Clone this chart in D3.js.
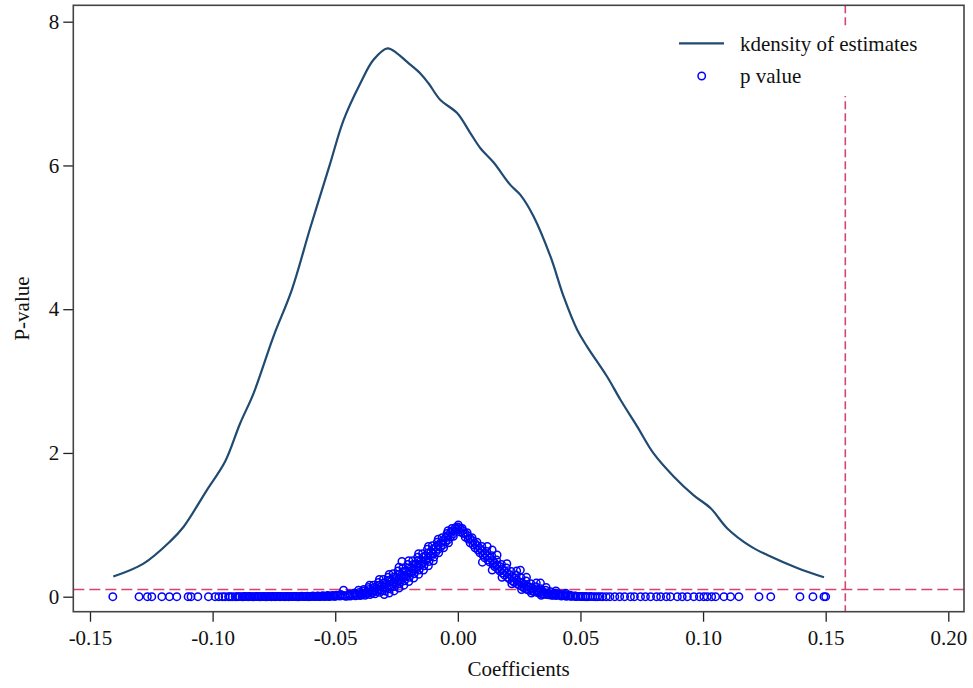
<!DOCTYPE html>
<html>
<head>
<meta charset="utf-8">
<script src="https://cdn.jsdelivr.net/npm/d3@7"></script>
<style>
  body { margin: 0; background: #fff; }
  text { font-family: "Liberation Serif", "Times New Roman", serif; fill: #111; }
</style>
</head>
<body>
<div id="chart"></div>
<script>
// axis ticks
const xTicks = [-0.15, -0.10, -0.05, 0, 0.05, 0.10, 0.15, 0.20];
const yTicks = [0, 2, 4, 6, 8];

// kernel density of the placebo estimates
const densityX = [-0.1405, -0.1282, -0.1173, -0.1119, -0.1024, -0.0949, -0.0888, -0.0833, -0.0752, -0.0677,
  -0.0602, -0.0523, -0.0466, -0.0398, -0.0344, -0.0287, -0.0248, -0.0207, -0.0153, -0.0119, -0.0071, -0.0003,
  0.0051, 0.0092, 0.0146, 0.0214, 0.0255, 0.0309, 0.0378, 0.0432, 0.0487, 0.0527, 0.0609, 0.0663, 0.0731,
  0.0799, 0.0881, 0.0962, 0.1031, 0.1099, 0.1194, 0.1262, 0.1384, 0.1493];
const densityY = [0.28, 0.46, 0.77, 0.97, 1.48, 1.88, 2.41, 2.83, 3.62, 4.27,
  5.13, 6.0, 6.63, 7.14, 7.47, 7.63, 7.56, 7.44, 7.28, 7.14, 6.91, 6.73,
  6.45, 6.24, 6.04, 5.73, 5.59, 5.29, 4.73, 4.17, 3.71, 3.48, 3.06, 2.74, 2.37,
  1.99, 1.67, 1.41, 1.23, 0.95, 0.70, 0.58, 0.40, 0.27];

// p values: [coefficient, p]
const pLeftTail = [[-0.1407, 0], [-0.1300, 0], [-0.1266, 0], [-0.1248, 0], [-0.1207, 0], [-0.1176, 0],
  [-0.1146, 0], [-0.1100, 0], [-0.1088, 0], [-0.1060, 0], [-0.1017, 0], [-0.0990, 0], [-0.0975, 0],
  [-0.0960, 0], [-0.0949, 0], [-0.0935, 0], [-0.0929, 0], [-0.0920, 0], [-0.0908, 0]];
const pLeftDense = [[-0.0900, 0], [-0.0890, 0.001], [-0.0880, 0], [-0.0868, 0.002], [-0.0855, 0], [-0.0845, 0.001],
  [-0.0832, 0], [-0.0820, 0.002], [-0.0810, 0], [-0.0798, 0.001], [-0.0785, 0], [-0.0772, 0.002], [-0.0760, 0],
  [-0.0750, 0.001], [-0.0738, 0.003], [-0.0725, 0], [-0.0712, 0.001], [-0.0700, 0.002], [-0.0690, 0],
  [-0.0678, 0.003], [-0.0665, 0.001], [-0.0655, 0], [-0.0642, 0.004], [-0.0630, 0.001], [-0.0620, 0.002],
  [-0.0608, 0], [-0.0597, 0.005], [-0.0585, 0.002], [-0.0575, 0.006], [-0.0566, 0.001], [-0.0556, 0.008],
  [-0.0545, 0.003], [-0.0535, 0.010], [-0.0526, 0.002], [-0.0515, 0.012], [-0.0505, 0.004],
  [-0.0895, 0.001], [-0.0875, 0], [-0.0862, 0.001], [-0.0850, 0.002], [-0.0838, 0], [-0.0826, 0.001],
  [-0.0815, 0.003], [-0.0803, 0], [-0.0791, 0.002], [-0.0779, 0], [-0.0766, 0.001], [-0.0755, 0.003],
  [-0.0744, 0], [-0.0731, 0.002], [-0.0719, 0.004], [-0.0706, 0], [-0.0695, 0.003], [-0.0684, 0.001],
  [-0.0671, 0.005], [-0.0660, 0.002], [-0.0648, 0], [-0.0636, 0.006], [-0.0625, 0.003], [-0.0614, 0.008],
  [-0.0602, 0.002], [-0.0591, 0.009], [-0.0580, 0.004], [-0.0570, 0.011], [-0.0561, 0.003], [-0.0550, 0.014],
  [-0.0540, 0.005], [-0.0530, 0.016], [-0.0520, 0.006], [-0.0510, 0.018]];
const pCenter = [
  [-0.0500, 0.005], [-0.0495, 0.020], [-0.0480, 0.010], [-0.0478, 0.030], [-0.0466, 0.090], [-0.0460, 0.015],
  [-0.0458, 0.004], [-0.0440, 0.020], [-0.0442, 0.040], [-0.0438, 0.008], [-0.0420, 0.030], [-0.0422, 0.050],
  [-0.0418, 0.012], [-0.0405, 0.090], [-0.0400, 0.040], [-0.0398, 0.015], [-0.0402, 0.060],
  [-0.0380, 0.050], [-0.0382, 0.080], [-0.0378, 0.020], [-0.0384, 0.100],
  [-0.0360, 0.060], [-0.0362, 0.100], [-0.0358, 0.030], [-0.0364, 0.130],
  [-0.0340, 0.080], [-0.0342, 0.130], [-0.0338, 0.040], [-0.0344, 0.160],
  [-0.0320, 0.100], [-0.0322, 0.160], [-0.0318, 0.060], [-0.0324, 0.200],
  [-0.0300, 0.130], [-0.0302, 0.190], [-0.0298, 0.080], [-0.0304, 0.240],
  [-0.0280, 0.160], [-0.0282, 0.230], [-0.0278, 0.110], [-0.0284, 0.270],
  [-0.0260, 0.200], [-0.0262, 0.270], [-0.0258, 0.140], [-0.0264, 0.320],
  [-0.0240, 0.240], [-0.0242, 0.310], [-0.0238, 0.180], [-0.0244, 0.360],
  [-0.0228, 0.490],
  [-0.0220, 0.280], [-0.0222, 0.350], [-0.0218, 0.220], [-0.0224, 0.400],
  [-0.0200, 0.330], [-0.0202, 0.400], [-0.0198, 0.270], [-0.0204, 0.450],
  [-0.0180, 0.380], [-0.0182, 0.450], [-0.0178, 0.320], [-0.0184, 0.500],
  [-0.0160, 0.430], [-0.0162, 0.500], [-0.0158, 0.370], [-0.0164, 0.550],
  [-0.0140, 0.480], [-0.0142, 0.550], [-0.0138, 0.430], [-0.0144, 0.600],
  [-0.0120, 0.540], [-0.0122, 0.610], [-0.0118, 0.490], [-0.0124, 0.660],
  [-0.0100, 0.600], [-0.0102, 0.660], [-0.0098, 0.550], [-0.0104, 0.710],
  [-0.0080, 0.660], [-0.0082, 0.720], [-0.0078, 0.610], [-0.0084, 0.760],
  [-0.0060, 0.720], [-0.0062, 0.780], [-0.0058, 0.680], [-0.0064, 0.820],
  [-0.0040, 0.790], [-0.0042, 0.850], [-0.0038, 0.750], [-0.0044, 0.880],
  [-0.0020, 0.870], [-0.0022, 0.920], [-0.0018, 0.840], [-0.0024, 0.950],
  [0.0000, 0.970], [0.0002, 1.000], [-0.0003, 0.940],
  [0.0020, 0.920], [0.0022, 0.880], [0.0018, 0.950],
  [0.0040, 0.850], [0.0042, 0.800], [0.0038, 0.890],
  [0.0060, 0.780], [0.0062, 0.720], [0.0058, 0.820],
  [0.0080, 0.710], [0.0082, 0.650], [0.0078, 0.760],
  [0.0100, 0.640], [0.0102, 0.580], [0.0098, 0.700],
  [0.0120, 0.570], [0.0122, 0.510], [0.0118, 0.630],
  [0.0140, 0.650], [0.0142, 0.500], [0.0144, 0.450], [0.0138, 0.570],
  [0.0160, 0.440], [0.0162, 0.390], [0.0158, 0.510],
  [0.0180, 0.380], [0.0182, 0.330], [0.0178, 0.450],
  [0.0200, 0.330], [0.0202, 0.270], [0.0198, 0.400],
  [0.0220, 0.280], [0.0222, 0.220], [0.0218, 0.350],
  [0.0240, 0.230], [0.0242, 0.180], [0.0238, 0.300],
  [0.0255, 0.370],
  [0.0260, 0.190], [0.0262, 0.140], [0.0258, 0.260],
  [0.0280, 0.150], [0.0282, 0.100], [0.0278, 0.220],
  [0.0300, 0.120], [0.0302, 0.080], [0.0298, 0.180],
  [0.0320, 0.090], [0.0322, 0.060], [0.0318, 0.140],
  [0.0337, 0.190],
  [0.0340, 0.070], [0.0342, 0.040], [0.0338, 0.110],
  [0.0360, 0.050], [0.0362, 0.030], [0.0358, 0.090],
  [0.0380, 0.040], [0.0382, 0.020], [0.0378, 0.070],
  [0.0400, 0.030], [0.0402, 0.015], [0.0398, 0.050],
  [0.0420, 0.020], [0.0422, 0.010], [0.0418, 0.040],
  [0.0440, 0.015], [0.0442, 0.006], [0.0438, 0.030],
  [0.0460, 0.010], [0.0462, 0.004], [0.0458, 0.020],
  [0.0480, 0.006], [0.0482, 0.002], [0.0478, 0.012],
  [0.0500, 0.004], [0.0502, 0.001], [0.0520, 0.002], [0.0522, 0]];
const pCenterExtra = [
  [-0.049, 0.012], [-0.047, 0.022], [-0.045, 0.010], [-0.043, 0.028], [-0.041, 0.018], [-0.039, 0.045],
  [-0.039, 0.025], [-0.037, 0.070], [-0.037, 0.040], [-0.035, 0.090], [-0.035, 0.050], [-0.033, 0.120],
  [-0.033, 0.070], [-0.031, 0.150], [-0.031, 0.090], [-0.029, 0.180], [-0.029, 0.120], [-0.027, 0.220],
  [-0.027, 0.150], [-0.025, 0.260], [-0.025, 0.190], [-0.023, 0.300], [-0.023, 0.230], [-0.021, 0.350],
  [-0.021, 0.280], [-0.019, 0.400], [-0.019, 0.330], [-0.017, 0.450], [-0.017, 0.380], [-0.015, 0.500],
  [-0.015, 0.440], [-0.013, 0.570], [-0.013, 0.500], [-0.011, 0.630], [-0.011, 0.560], [-0.009, 0.690],
  [-0.009, 0.620], [-0.007, 0.750], [-0.007, 0.690], [-0.005, 0.820], [-0.005, 0.760], [-0.003, 0.890],
  [-0.003, 0.830], [-0.001, 0.960], [-0.001, 0.910],
  [0.001, 0.950], [0.001, 0.900], [0.003, 0.880], [0.003, 0.830], [0.005, 0.810], [0.005, 0.750],
  [0.007, 0.740], [0.007, 0.680], [0.009, 0.670], [0.009, 0.610], [0.011, 0.600], [0.011, 0.540],
  [0.013, 0.540], [0.013, 0.480], [0.015, 0.470], [0.015, 0.420], [0.017, 0.420], [0.017, 0.360],
  [0.019, 0.360], [0.019, 0.300], [0.021, 0.310], [0.021, 0.250], [0.023, 0.260], [0.023, 0.200],
  [0.025, 0.210], [0.025, 0.160], [0.027, 0.170], [0.027, 0.120], [0.029, 0.140], [0.029, 0.090],
  [0.031, 0.110], [0.031, 0.070], [0.033, 0.085], [0.033, 0.050], [0.035, 0.065], [0.035, 0.035],
  [0.037, 0.050], [0.037, 0.025], [0.039, 0.035], [0.039, 0.018], [0.041, 0.025], [0.043, 0.018],
  [0.045, 0.012], [0.047, 0.008], [0.049, 0.005], [0.051, 0.003]];
// points at the outer edges of the band
const pSpread = [
  [-0.030, 0.030], [-0.028, 0.050], [-0.026, 0.080], [-0.024, 0.120], [-0.022, 0.160], [-0.020, 0.210],
  [-0.018, 0.260], [-0.016, 0.310], [-0.014, 0.370], [-0.012, 0.430], [-0.010, 0.500],
  [-0.036, 0.160], [-0.032, 0.240], [-0.028, 0.310], [-0.024, 0.410], [-0.020, 0.500], [-0.016, 0.600],
  [-0.012, 0.700], [-0.008, 0.800], [-0.004, 0.920],
  [0.012, 0.700], [0.016, 0.580], [0.020, 0.460], [0.024, 0.360], [0.028, 0.270], [0.032, 0.190],
  [0.036, 0.130], [0.040, 0.080], [0.044, 0.050],
  [0.010, 0.480], [0.014, 0.370], [0.018, 0.270], [0.022, 0.180], [0.026, 0.100], [0.030, 0.050],
  [0.034, 0.020]];
const pRightTail = [[0.0530, 0], [0.0540, 0.002], [0.0550, 0.001], [0.0560, 0], [0.0570, 0], [0.0580, 0.001],
  [0.0590, 0], [0.0605, 0], [0.0620, 0], [0.0640, 0], [0.0660, 0],
  [0.0680, 0], [0.0704, 0], [0.0720, 0], [0.0745, 0], [0.0765, 0], [0.0786, 0], [0.0810, 0], [0.0827, 0],
  [0.0850, 0], [0.0867, 0], [0.0895, 0], [0.0915, 0], [0.0936, 0], [0.0962, 0], [0.0985, 0], [0.1003, 0],
  [0.1017, 0], [0.1035, 0], [0.1051, 0], [0.1085, 0], [0.1112, 0], [0.1146, 0], [0.1228, 0], [0.1276, 0],
  [0.1395, 0], [0.1448, 0], [0.1493, 0], [0.1500, 0]];

const pCutoff = 0.1;      // horizontal reference line
const trueCoef = 0.158;   // vertical reference line (baseline estimate)

const width = 973, height = 688;
const frame = { left: 73.3, right: 964, top: 5.3, bottom: 611.7 };
const fontSize = '21px';

const svg = d3.select('#chart')
  .append('svg')
  .attr('width', width)
  .attr('height', height);

const x = d3.scaleLinear().domain([-0.15, 0.20]).range([90, 948.3]);
const y = d3.scaleLinear().domain([0, 8]).range([596.7, 21.7]);

// axes
const yAxis = svg.append('g')
  .attr('transform', `translate(${frame.left},0)`)
  .call(d3.axisLeft(y).tickValues(yTicks).tickSize(10).tickPadding(4).tickFormat(d => String(d)));
const xAxis = svg.append('g')
  .attr('transform', `translate(0,${frame.bottom})`)
  .call(d3.axisBottom(x).tickValues(xTicks).tickSize(10).tickPadding(8).tickFormat(d => d.toFixed(2)));
[yAxis, xAxis].forEach(g => {
  g.select('.domain').remove();
  g.selectAll('line').attr('stroke', '#222').attr('stroke-width', 1.3);
  g.selectAll('text').style('font-size', fontSize).attr('fill', '#111');
});

// reference lines
const red = '#d6456d';
svg.append('line')
  .attr('x1', frame.left).attr('x2', frame.right)
  .attr('y1', y(pCutoff)).attr('y2', y(pCutoff))
  .attr('stroke', red).attr('stroke-width', 1.6).attr('stroke-dasharray', '11,5');
svg.append('line')
  .attr('x1', x(trueCoef)).attr('x2', x(trueCoef))
  .attr('y1', frame.top).attr('y2', frame.bottom)
  .attr('stroke', red).attr('stroke-width', 1.6).attr('stroke-dasharray', '8,4');

// density curve
const density = densityX.map((d, i) => [d, densityY[i]]);
svg.append('path')
  .datum(density)
  .attr('fill', 'none')
  .attr('stroke', '#1f4a72')
  .attr('stroke-width', 2.2)
  .attr('d', d3.line().x(d => x(d[0])).y(d => y(d[1])).curve(d3.curveCatmullRom));

// p value scatter
const points = pLeftTail.concat(pLeftDense, pCenter, pCenterExtra, pSpread, pRightTail);
svg.append('g')
  .selectAll('circle')
  .data(points)
  .join('circle')
  .attr('cx', d => x(d[0]))
  .attr('cy', d => y(d[1]))
  .attr('r', 3.7)
  .attr('fill', 'none')
  .attr('stroke', '#0000ff')
  .attr('stroke-width', 1.5);

// frame
svg.append('rect')
  .attr('x', frame.left).attr('y', frame.top)
  .attr('width', frame.right - frame.left).attr('height', frame.bottom - frame.top)
  .attr('fill', 'none').attr('stroke', '#444').attr('stroke-width', 1.6);

// legend
const legend = svg.append('g');
legend.append('rect')
  .attr('x', 668).attr('y', 28).attr('width', 262).attr('height', 68)
  .attr('fill', '#fff');
legend.append('line')
  .attr('x1', 679).attr('x2', 724).attr('y1', 43.3).attr('y2', 43.3)
  .attr('stroke', '#1f4a72').attr('stroke-width', 2.2);
legend.append('text')
  .attr('x', 740).attr('y', 50.5).style('font-size', fontSize)
  .text('kdensity of estimates');
legend.append('circle')
  .attr('cx', 701.7).attr('cy', 76).attr('r', 3.7)
  .attr('fill', 'none').attr('stroke', '#0000ff').attr('stroke-width', 1.5);
legend.append('text')
  .attr('x', 740).attr('y', 82.5).style('font-size', fontSize)
  .text('p value');

// axis titles
svg.append('text')
  .attr('x', (frame.left + frame.right) / 2).attr('y', 676)
  .attr('text-anchor', 'middle').style('font-size', fontSize)
  .text('Coefficients');
svg.append('text')
  .attr('transform', `translate(29,${(frame.top + frame.bottom) / 2}) rotate(-90)`)
  .attr('text-anchor', 'middle').style('font-size', fontSize)
  .text('P-value');
</script>
</body>
</html>
